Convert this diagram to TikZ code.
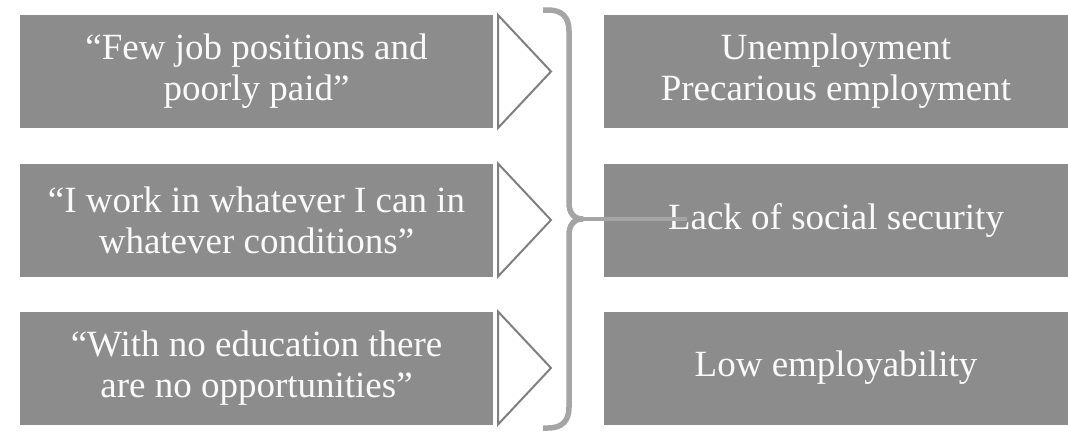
\documentclass[tikz,border=0pt]{standalone}
\usepackage{fontspec}
\setmainfont{Liberation Serif}
\definecolor{boxgray}{RGB}{140,140,140}
\definecolor{bracegray}{RGB}{165,165,165}
\definecolor{chevgray}{RGB}{128,128,128}
\definecolor{textwhite}{RGB}{250,250,250}
\tikzset{
  gbox/.style={rectangle, fill=boxgray, draw=none, inner sep=0pt, align=center,
    text=textwhite, font=\fontsize{37}{41}\selectfont},
  lbox/.style={gbox, minimum width=473pt, minimum height=113pt},
  rbox/.style={gbox, minimum width=464pt, minimum height=113pt},
  chevron/.style={fill=white, draw=chevgray, line width=2pt, line join=miter},
  bracestyle/.style={draw=bracegray, line width=5.5pt},
  barstyle/.style={draw=bracegray, line width=4pt}
}
\begin{document}
\begin{tikzpicture}[x=1pt,y=-1pt]
\useasboundingbox (0,0) rectangle (1068,434);
% left boxes
\node[lbox] (l1) at (256.5,71.5) {“Few job positions and\\poorly paid”};
\node[lbox] (l2) at (256.5,220) {“I work in whatever I can in\\whatever conditions”};
\node[lbox] (l3) at (256.5,368) {“With no education there\\are no opportunities”};
% chevrons
\foreach \i/\yc in {1/71.5, 2/220, 3/368}{
  \draw[chevron] (498,\yc-56.5) -- (551,\yc) -- (498,\yc+56.5) -- cycle;
}
% right boxes
\node[rbox] (r1) at (836,71.5) {Unemployment\\Precarious employment};
\node[rbox] (r2) at (836,220) {Lack of social security};
\node[rbox] (r3) at (836,368) {Low employability};
% brace
\coordinate (tip) at (583,219);
\draw[bracestyle] (543,10) -- (548,10) .. controls (562,10) and (569,17) .. (569,31)
  -- (569,203) .. controls (569,212) and (573,219) .. (tip)
  .. controls (573,219) and (569,226) .. (569,235)
  -- (569,407) .. controls (569,421) and (562,428) .. (548,428) -- (543,428);
\coordinate (barend) at (687,219);
\draw[barstyle] (575,219) -- (barend);
\end{tikzpicture}
\end{document}
